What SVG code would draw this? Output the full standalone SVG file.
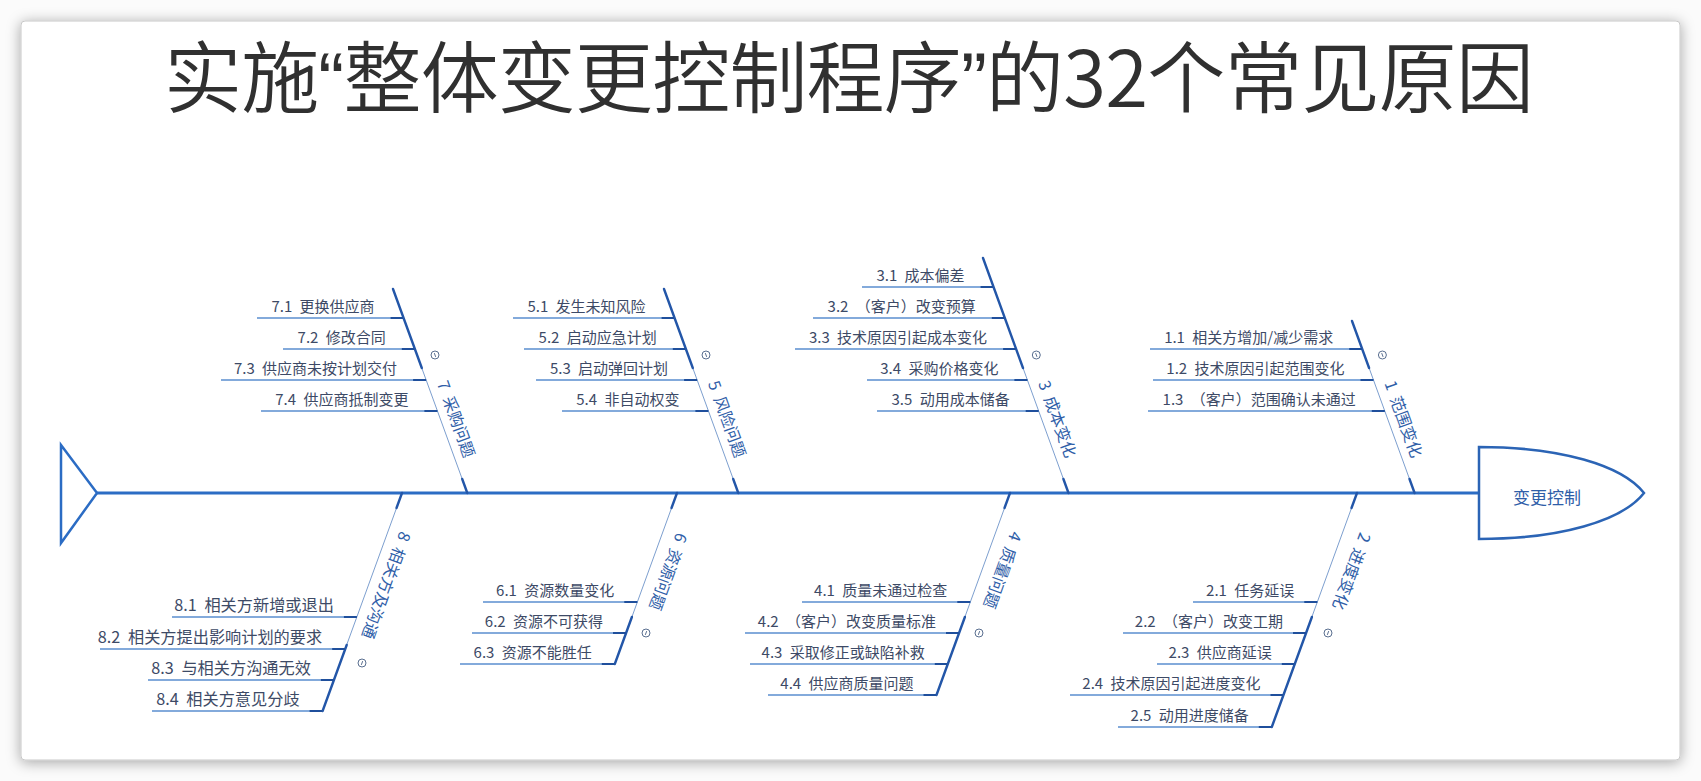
<svg xmlns="http://www.w3.org/2000/svg" width="1701" height="781" viewBox="0 0 1701 781">
<defs>
<filter id="sh" x="-5%" y="-5%" width="110%" height="110%">
<feDropShadow dx="0" dy="2" stdDeviation="7" flood-color="#000" flood-opacity="0.35"/>
</filter>
</defs>
<style>
.t{font-family:"Noto Sans CJK SC","Liberation Sans",sans-serif;font-size:15px;fill:#3d4a66;text-anchor:end;word-spacing:4px}
.t8{font-size:16.2px}
.lb{font-family:"Noto Sans CJK SC","Liberation Sans",sans-serif;font-size:16px;fill:#2f5ea8;dominant-baseline:central;word-spacing:4px}
.sub{stroke:#5b8fd0;stroke-width:1.3;fill:none}
.se{stroke:#1f4f9c;stroke-width:2.2;fill:none}
.bk{stroke:#2356a8;stroke-width:2.4;fill:none;stroke-linecap:round}
.bn{stroke:#7d9fcf;stroke-width:1;fill:none}
.ci{fill:none;stroke:#5a6f90;stroke-width:1}
.sp{stroke:#2b6cc4;stroke-width:3;fill:#fff}
.q{font-family:"Liberation Sans",sans-serif}
</style>
<rect x="0" y="0" width="1701" height="781" fill="#fbfbfb"/>
<rect x="21" y="21" width="1659" height="739" rx="4" fill="#fff" stroke="#c8c8c8" stroke-width="1" filter="url(#sh)"/>
<text x="849" y="107" font-family="'Noto Sans CJK SC','Liberation Sans',sans-serif" font-size="78" font-weight="350" fill="#303030" text-anchor="middle" textLength="1370" lengthAdjust="spacing">实施<tspan class="q">“</tspan>整体变更控制程序<tspan class="q">”</tspan>的32个常见原因</text>

<g id="connectors">
<line class="sp" x1="97" y1="493" x2="1479" y2="493"/>
<line class="bn" x1="393" y1="289" x2="467.3" y2="493"/>
<line class="bk" x1="393" y1="289" x2="421.8" y2="368"/>
<line class="bk" x1="462.2" y1="479" x2="467.3" y2="493"/>
<line class="bn" x1="664" y1="289" x2="738.3" y2="493"/>
<line class="bk" x1="664" y1="289" x2="692.8" y2="368"/>
<line class="bk" x1="733.2" y1="479" x2="738.3" y2="493"/>
<line class="bn" x1="983" y1="258" x2="1068.5" y2="493"/>
<line class="bk" x1="983" y1="258" x2="1023" y2="368"/>
<line class="bk" x1="1063.4" y1="479" x2="1068.5" y2="493"/>
<line class="bn" x1="1352" y1="321" x2="1414.6" y2="493"/>
<line class="bk" x1="1352" y1="321" x2="1369.1" y2="368"/>
<line class="bk" x1="1409.5" y1="479" x2="1414.6" y2="493"/>
<line class="bn" x1="402" y1="493" x2="322.6" y2="711"/>
<line class="bk" x1="346.7" y1="645" x2="322.6" y2="711"/>
<line class="bk" x1="402" y1="493" x2="396.5" y2="508"/>
<line class="bn" x1="677" y1="493" x2="614.8" y2="664"/>
<line class="bk" x1="631.9" y1="617" x2="614.8" y2="664"/>
<line class="bk" x1="677" y1="493" x2="671.5" y2="508"/>
<line class="bn" x1="1010" y1="493" x2="936.5" y2="695"/>
<line class="bk" x1="964.9" y1="617" x2="936.5" y2="695"/>
<line class="bk" x1="1010" y1="493" x2="1004.5" y2="508"/>
<line class="bn" x1="1357" y1="493" x2="1271.8" y2="727"/>
<line class="bk" x1="1311.9" y1="617" x2="1271.8" y2="727"/>
<line class="bk" x1="1357" y1="493" x2="1351.5" y2="508"/>
<path class="sub" d="M257,318H403.6M283,349H414.8M221,380H426.1M261,411H437.4"/>
<path class="se" d="M390.6,318H403.6M401.8,349H414.8M413.1,380H426.1M424.4,411H437.4"/>
<path class="sub" d="M513,318H674.6M524,349H685.8M536,380H697.1M562,411H708.4"/>
<path class="se" d="M661.6,318H674.6M672.8,349H685.8M684.1,380H697.1M695.4,411H708.4"/>
<path class="sub" d="M862,287H993.6M813,318H1004.8M795,349H1016.1M867,380H1027.4M877,411H1038.7"/>
<path class="se" d="M980.6,287H993.6M991.8,318H1004.8M1003.1,349H1016.1M1014.4,380H1027.4M1025.7,411H1038.7"/>
<path class="sub" d="M1150,349H1362.2M1153,380H1373.5M1148,411H1384.8"/>
<path class="se" d="M1349.2,349H1362.2M1360.5,380H1373.5M1371.8,411H1384.8"/>
<path class="sub" d="M172,617H356.9M100,649H345.2M148,680H333.9M152,711H322.6"/>
<path class="se" d="M343.9,617H356.9M332.2,649H345.2M320.9,680H333.9M309.6,711H322.6"/>
<path class="sub" d="M483,602H637.3M472,633H626M460,664H614.8"/>
<path class="se" d="M624.3,602H637.3M613,633H626M601.8,664H614.8"/>
<path class="sub" d="M802,602H970.3M745,633H959M750,664H947.8M768,695H936.5"/>
<path class="se" d="M957.3,602H970.3M946,633H959M934.8,664H947.8M923.5,695H936.5"/>
<path class="sub" d="M1193,602H1317.3M1123,633H1306M1157,664H1294.8M1070,695H1283.5M1118,727H1271.8"/>
<path class="se" d="M1304.3,602H1317.3M1293,633H1306M1281.8,664H1294.8M1270.5,695H1283.5M1258.8,727H1271.8"/>
</g>

<g id="tail">
<polygon points="61,445 97,493 61,543" fill="#fff" stroke="#2b6cc4" stroke-width="2.5" stroke-linejoin="miter"/>
</g>
<g id="head">
<path d="M1479,447 C1560,447 1622,465 1644,493 C1622,521 1560,539 1479,539 Z" fill="#fff" stroke="#2b64b5" stroke-width="2.5"/>
<text x="1547" y="496" font-family="'Noto Sans CJK SC','Liberation Sans',sans-serif" font-size="17" fill="#2f5ea8" text-anchor="middle" dominant-baseline="central">变更控制</text>
</g>

<g id="branch7">
<text class="lb" transform="translate(443.4,380.9) rotate(70)">7 采购问题</text>
<circle class="ci" cx="435" cy="355" r="4"/><line class="ci" x1="434.3" y1="353.1" x2="435.7" y2="356.9"/>
<text class="t" x="374.6" y="312">7.1 更换供应商</text>
<text class="t" x="385.8" y="343">7.2 修改合同</text>
<text class="t" x="397.1" y="374">7.3 供应商未按计划交付</text>
<text class="t" x="408.4" y="405">7.4 供应商抵制变更</text>
</g>
<g id="branch5">
<text class="lb" transform="translate(714.4,380.9) rotate(70)">5 风险问题</text>
<circle class="ci" cx="706" cy="355" r="4"/><line class="ci" x1="705.3" y1="353.1" x2="706.7" y2="356.9"/>
<text class="t" x="645.6" y="312">5.1 发生未知风险</text>
<text class="t" x="656.8" y="343">5.2 启动应急计划</text>
<text class="t" x="668.1" y="374">5.3 启动弹回计划</text>
<text class="t" x="679.4" y="405">5.4 非自动权变</text>
</g>
<g id="branch3">
<text class="lb" transform="translate(1044.7,380.9) rotate(70)">3 成本变化</text>
<circle class="ci" cx="1036.3" cy="355" r="4"/><line class="ci" x1="1035.6" y1="353.1" x2="1037" y2="356.9"/>
<text class="t" x="964.6" y="281">3.1 成本偏差</text>
<text class="t" x="975.8" y="312">3.2 （客户）改变预算</text>
<text class="t" x="987.1" y="343">3.3 技术原因引起成本变化</text>
<text class="t" x="998.4" y="374">3.4 采购价格变化</text>
<text class="t" x="1009.7" y="405">3.5 动用成本储备</text>
</g>
<g id="branch1">
<text class="lb" transform="translate(1390.8,380.9) rotate(70)">1 范围变化</text>
<circle class="ci" cx="1382.4" cy="355" r="4"/><line class="ci" x1="1381.7" y1="353.1" x2="1383.1" y2="356.9"/>
<text class="t" x="1333.2" y="343">1.1 相关方增加/减少需求</text>
<text class="t" x="1344.5" y="374">1.2 技术原因引起范围变化</text>
<text class="t" x="1355.8" y="405">1.3 （客户）范围确认未通过</text>
</g>
<g id="branch8">
<text class="lb" font-size="17" transform="translate(406.5,532.9) rotate(110)">8 相关方及沟通</text>
<circle class="ci" cx="362" cy="663" r="4"/><line class="ci" x1="362.7" y1="661.1" x2="361.3" y2="664.9"/>
<text class="t t8" x="333.9" y="611">8.1 相关方新增或退出</text>
<text class="t t8" x="322.2" y="643">8.2 相关方提出影响计划的要求</text>
<text class="t t8" x="310.9" y="674">8.3 与相关方沟通无效</text>
<text class="t t8" x="299.6" y="705">8.4 相关方意见分歧</text>
</g>
<g id="branch6">
<text class="lb" transform="translate(683.2,534.2) rotate(110)">6 资源问题</text>
<circle class="ci" cx="646" cy="633" r="4"/><line class="ci" x1="646.7" y1="631.1" x2="645.3" y2="634.9"/>
<text class="t" x="614.3" y="596">6.1 资源数量变化</text>
<text class="t" x="603" y="627">6.2 资源不可获得</text>
<text class="t" x="591.8" y="658">6.3 资源不能胜任</text>
</g>
<g id="branch4">
<text class="lb" transform="translate(1017.5,532.6) rotate(110)">4 质量问题</text>
<circle class="ci" cx="979" cy="633" r="4"/><line class="ci" x1="979.7" y1="631.1" x2="978.3" y2="634.9"/>
<text class="t" x="947.3" y="596">4.1 质量未通过检查</text>
<text class="t" x="936" y="627">4.2 （客户）改变质量标准</text>
<text class="t" x="924.8" y="658">4.3 采取修正或缺陷补救</text>
<text class="t" x="913.5" y="689">4.4 供应商质量问题</text>
</g>
<g id="branch2">
<text class="lb" transform="translate(1366.5,533.9) rotate(110)">2 进度变化</text>
<circle class="ci" cx="1328" cy="633" r="4"/><line class="ci" x1="1328.7" y1="631.1" x2="1327.3" y2="634.9"/>
<text class="t" x="1294.3" y="596">2.1 任务延误</text>
<text class="t" x="1283" y="627">2.2 （客户）改变工期</text>
<text class="t" x="1271.8" y="658">2.3 供应商延误</text>
<text class="t" x="1260.5" y="689">2.4 技术原因引起进度变化</text>
<text class="t" x="1248.8" y="721">2.5 动用进度储备</text>
</g>
</svg>
